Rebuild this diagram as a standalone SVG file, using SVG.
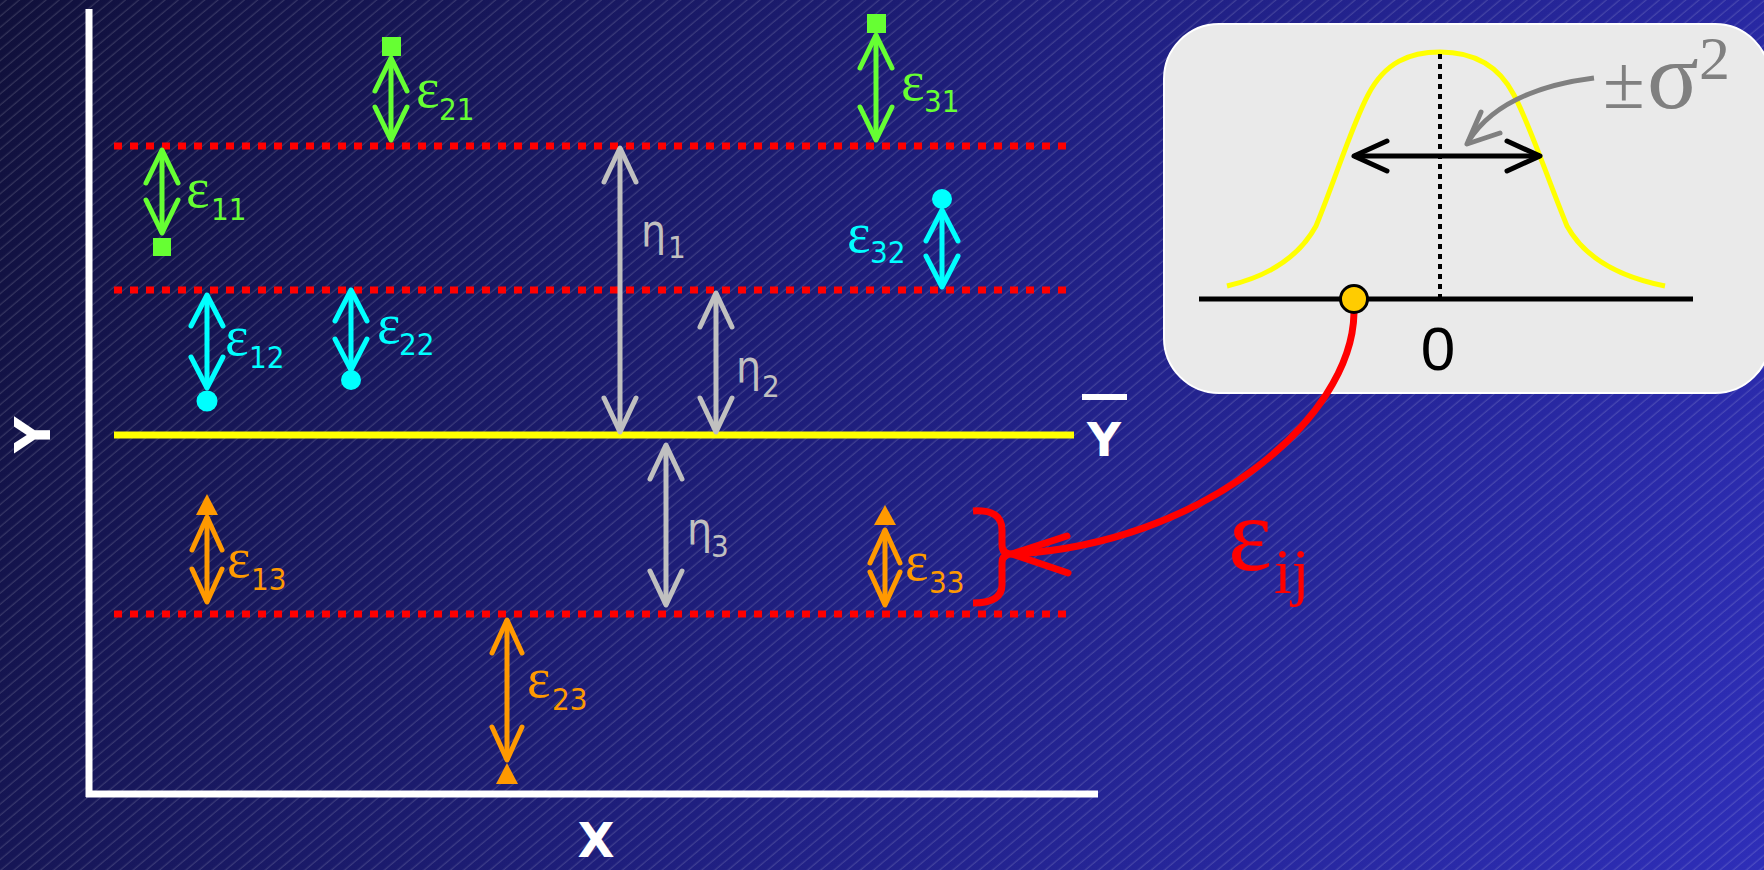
<svg xmlns="http://www.w3.org/2000/svg" width="1764" height="870" viewBox="0 0 1764 870">
<defs>
  <linearGradient id="bg" gradientUnits="userSpaceOnUse" x1="0" y1="0" x2="1764" y2="870">
    <stop offset="0" stop-color="#10103a"/>
    <stop offset="0.5" stop-color="#1f1f80"/>
    <stop offset="1" stop-color="#2e2eb8"/>
  </linearGradient>
  <pattern id="hatch" patternUnits="userSpaceOnUse" width="8.5" height="8.5" patternTransform="rotate(-40)">
    <line x1="0" y1="4" x2="8.5" y2="4" stroke="#ffffff" stroke-opacity="0.18" stroke-width="1"/>
  </pattern>
  <marker id="mG" markerUnits="userSpaceOnUse" viewBox="-40 -20 44 40" markerWidth="44" markerHeight="40" refX="0" refY="0" orient="auto-start-reverse">
    <path d="M-33,-16 L0,0 L-33,16" fill="none" stroke="#66ff33" stroke-width="5" stroke-linecap="round" stroke-linejoin="round"/>
  </marker>
  <marker id="mC" markerUnits="userSpaceOnUse" viewBox="-40 -20 44 40" markerWidth="44" markerHeight="40" refX="0" refY="0" orient="auto-start-reverse">
    <path d="M-31,-16 L0,0 L-31,16" fill="none" stroke="#00ffff" stroke-width="5" stroke-linecap="round" stroke-linejoin="round"/>
  </marker>
  <marker id="mO" markerUnits="userSpaceOnUse" viewBox="-40 -20 44 40" markerWidth="44" markerHeight="40" refX="0" refY="0" orient="auto-start-reverse">
    <path d="M-33,-15 L0,0 L-33,15" fill="none" stroke="#ff9900" stroke-width="5" stroke-linecap="round" stroke-linejoin="round"/>
  </marker>
  <marker id="mS" markerUnits="userSpaceOnUse" viewBox="-40 -20 44 40" markerWidth="44" markerHeight="40" refX="0" refY="0" orient="auto-start-reverse">
    <path d="M-34,-16 L0,0 L-34,16" fill="none" stroke="#c0c0c0" stroke-width="5" stroke-linecap="round" stroke-linejoin="round"/>
  </marker>
  <marker id="mK" markerUnits="userSpaceOnUse" viewBox="-40 -20 44 40" markerWidth="44" markerHeight="40" refX="0" refY="0" orient="auto-start-reverse">
    <path d="M-33,-15 L0,0 L-33,15" fill="none" stroke="#000000" stroke-width="5" stroke-linecap="round" stroke-linejoin="round"/>
  </marker>
  <style>
    .lbl{font-family:"DejaVu Sans Condensed","DejaVu Sans",sans-serif;font-stretch:condensed;font-size:44px}
    .eps{font-family:"Liberation Serif",serif;font-size:56px;font-stretch:normal}
    .sub{font-size:31px}
    .ax{font-family:"DejaVu Sans",sans-serif;font-weight:bold;font-size:50px;fill:#ffffff}
    .g{fill:#66ff33}.c{fill:#00ffff}.o{fill:#ff9900}.s{fill:#c0c0c0}
    .ag{stroke:#66ff33;stroke-width:5;fill:none;marker-start:url(#mG);marker-end:url(#mG)}
    .ac{stroke:#00ffff;stroke-width:5;fill:none;marker-start:url(#mC);marker-end:url(#mC)}
    .ao{stroke:#ff9900;stroke-width:5;fill:none;marker-start:url(#mO);marker-end:url(#mO)}
    .as{stroke:#c0c0c0;stroke-width:5;fill:none;marker-start:url(#mS);marker-end:url(#mS)}
    .red{stroke:#ff0000;stroke-width:7;stroke-dasharray:8 8;fill:none}
  </style>
</defs>

<rect x="0" y="0" width="1764" height="870" fill="url(#bg)"/>
<rect x="0" y="0" width="1764" height="870" fill="url(#hatch)"/>

<g id="axes">
  <line x1="89" y1="9" x2="89" y2="797" stroke="#ffffff" stroke-width="7"/>
  <line x1="86" y1="794" x2="1098" y2="794" stroke="#ffffff" stroke-width="7"/>
  <text class="ax" text-anchor="middle" transform="translate(50,435) rotate(-90)">Y</text>
  <text class="ax" x="596" y="857" text-anchor="middle" style="font-size:48px">X</text>
</g>

<g id="group-lines">
  <line class="red" x1="114" y1="146" x2="1070" y2="146"/>
  <line class="red" x1="114" y1="290" x2="1070" y2="290"/>
  <line class="red" x1="114" y1="614" x2="1070" y2="614"/>
</g>

<g id="mean-line">
  <line x1="114" y1="435" x2="1074" y2="435" stroke="#ffff00" stroke-width="7"/>
  <rect x="1082" y="394" width="45" height="6" fill="#ffffff"/>
  <text class="ax" x="1104" y="456" text-anchor="middle" style="font-size:47px">Y</text>
</g>

<g id="e11"><rect x="153" y="238" width="18" height="18" class="g"/>
  <text class="lbl g" x="186" y="207"><tspan class="eps">ε</tspan><tspan class="sub" x="211" y="220">11</tspan></text></g>
<g id="e21"><rect x="382" y="37" width="19" height="19" class="g"/>
  <text class="lbl g" x="416" y="107"><tspan class="eps">ε</tspan><tspan class="sub" x="439" y="120">21</tspan></text></g>
<g id="e31"><rect x="867" y="14" width="19" height="19" class="g"/>
  <text class="lbl g" x="901" y="100"><tspan class="eps">ε</tspan><tspan class="sub" x="924" y="112">31</tspan></text></g>
<g id="e32"><circle cx="942" cy="199" r="10" class="c"/>
  <text class="lbl c" x="847" y="252"><tspan class="eps">ε</tspan><tspan class="sub" x="870" y="263">32</tspan></text></g>
<g id="e12"><circle cx="207" cy="401" r="10.5" class="c"/>
  <text class="lbl c" x="225" y="355"><tspan class="eps">ε</tspan><tspan class="sub" x="249" y="368">12</tspan></text></g>
<g id="e22"><circle cx="351" cy="380" r="10" class="c"/>
  <text class="lbl c" x="377" y="343"><tspan class="eps">ε</tspan><tspan class="sub" x="399" y="355">22</tspan></text></g>
<g id="e13"><polygon points="207,494 218,515 196,515" class="o"/>
  <text class="lbl o" x="227" y="577"><tspan class="eps">ε</tspan><tspan class="sub" x="251" y="590">13</tspan></text></g>
<g id="e23"><polygon points="507,763 518,784 496,784" class="o"/>
  <text class="lbl o" x="527" y="697"><tspan class="eps">ε</tspan><tspan class="sub" x="552" y="710">23</tspan></text></g>
<g id="e33"><polygon points="885,505 896,525 874,525" class="o"/>
  <text class="lbl o" x="905" y="580"><tspan class="eps">ε</tspan><tspan class="sub" x="929" y="593">33</tspan></text></g>

<g id="eta1"><text class="lbl s" x="641" y="246">η<tspan class="sub" x="668" y="258">1</tspan></text></g>
<g id="eta2"><text class="lbl s" x="736" y="382">η<tspan class="sub" x="762" y="397">2</tspan></text></g>
<g id="eta3"><text class="lbl s" x="687" y="544">η<tspan class="sub" x="711" y="557">3</tspan></text></g>

<g id="brace">
  <path d="M973,511 Q1002,509 1002,530 L1002,545 Q1002,554 1012,554 Q1002,554 1002,563 L1002,585 Q1002,603 973,603" fill="none" stroke="#ff0000" stroke-width="7"/>
</g>

<g id="eij">
  <text x="1228" y="570" fill="#ff0000" style="font-family:'Liberation Serif',serif;font-size:105px">ε<tspan x="1274" y="593" style="font-size:64px">ij</tspan></text>
</g>

<g id="distribution">
  <rect x="1164" y="24" width="606" height="369" rx="55" ry="55" fill="#eaeaea" stroke="#ffffff" stroke-width="2"/>
  <path d="M1227,286 C1270,276 1300,255 1316,226 C1335,180 1352,125 1368,95 C1385,62 1410,52 1440,52 C1470,52 1497,62 1514,95 C1530,125 1548,180 1567,226 C1583,255 1615,276 1665,286" fill="none" stroke="#ffff00" stroke-width="5"/>
  <line x1="1440" y1="54" x2="1440" y2="298" stroke="#000000" stroke-width="4" stroke-dasharray="5 5"/>
  <line x1="1199" y1="299" x2="1693" y2="299" stroke="#000000" stroke-width="5"/>
  <line x1="1354" y1="156" x2="1540" y2="156" stroke="#000000" stroke-width="5" marker-start="url(#mK)" marker-end="url(#mK)"/>
  <path d="M1594,78 Q1500,90 1468,142" fill="none" stroke="#808080" stroke-width="5"/>
  <path d="M1481,112 L1467,144 L1500,133" fill="none" stroke="#808080" stroke-width="5" stroke-linecap="round" stroke-linejoin="round"/>
  <text fill="#808080" style="font-family:'Liberation Serif',serif"><tspan x="1603" y="108" style="font-size:76px">±</tspan><tspan x="1647" y="108" style="font-size:96px">σ</tspan><tspan x="1699" y="79" style="font-size:62px">2</tspan></text>
  <text x="1438" y="370" text-anchor="middle" style="font-family:'Liberation Sans',sans-serif;font-size:62px">0</text>
</g>

<g id="connectors">
  <line class="ag" x1="162" y1="150" x2="162" y2="233"/>
  <line class="ag" x1="391" y1="58" x2="391" y2="140"/>
  <line class="ag" x1="876" y1="35" x2="876" y2="140"/>
  <line class="ac" x1="942" y1="210" x2="942" y2="287"/>
  <line class="ac" x1="207" y1="295" x2="207" y2="388"/>
  <line class="ac" x1="351" y1="290" x2="351" y2="370"/>
  <line class="ao" x1="207" y1="517" x2="207" y2="602"/>
  <line class="ao" x1="507" y1="620" x2="507" y2="760"/>
  <line class="ao" x1="885" y1="530" x2="885" y2="605"/>
  <line class="as" x1="620" y1="148" x2="620" y2="432"/>
  <line class="as" x1="716" y1="293" x2="716" y2="432"/>
  <line class="as" x1="666" y1="445" x2="666" y2="605"/>
  <path d="M1354,313 C1352,420 1200,545 1012,554" fill="none" stroke="#ff0000" stroke-width="7"/>
  <path d="M1067,536 L1012,554 L1068,573" fill="none" stroke="#ff0000" stroke-width="7" stroke-linecap="round" stroke-linejoin="round"/>
</g>

<g id="sample-point">
  <circle cx="1354" cy="299" r="13.5" fill="#ffcc00" stroke="#000000" stroke-width="3"/>
</g>
</svg>
